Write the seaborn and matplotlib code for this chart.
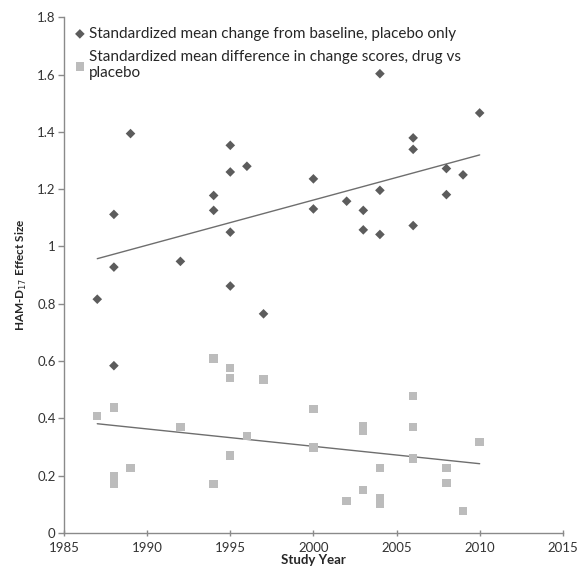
import numpy as np
import pandas as pd
import matplotlib
matplotlib.use('Agg')
import matplotlib.pyplot as plt
import seaborn as sns
from matplotlib.ticker import FuncFormatter

# Placebo-only standardized mean change (diamonds)
placebo_year = [1987, 1988, 1988, 1988, 1989, 1992, 1994, 1994, 1995, 1995, 1995, 1995,
                1996, 1997, 2000, 2000, 2002, 2003, 2003, 2004, 2004, 2004,
                2006, 2006, 2006, 2008, 2008, 2009, 2010]
placebo_es = [0.816, 1.112, 0.928, 0.584, 1.394, 0.948, 1.178, 1.126, 1.353, 1.260, 1.050, 0.862,
              1.280, 0.765, 1.236, 1.131, 1.158, 1.126, 1.058, 1.603, 1.196, 1.042,
              1.379, 1.339, 1.073, 1.272, 1.181, 1.250, 1.466]

# Drug vs placebo standardized mean difference (squares)
drug_year = [1987, 1988, 1988, 1988, 1989, 1992, 1994, 1994, 1995, 1995, 1995, 1996, 1997,
             2000, 2000, 2002, 2003, 2003, 2003, 2004, 2004, 2004,
             2006, 2006, 2006, 2008, 2008, 2009, 2010]
drug_es = [0.409, 0.438, 0.199, 0.171, 0.228, 0.371, 0.609, 0.171, 0.575, 0.542, 0.270, 0.339, 0.536,
           0.432, 0.298, 0.112, 0.373, 0.356, 0.150, 0.228, 0.120, 0.101,
           0.479, 0.370, 0.260, 0.226, 0.174, 0.077, 0.318]

placebo_label = 'Standardized mean change from baseline, placebo only'
drug_label = 'Standardized mean difference in change scores, drug vs\nplacebo'

placebo = pd.DataFrame({'year': placebo_year, 'es': placebo_es})
drug = pd.DataFrame({'year': drug_year, 'es': drug_es})

sns.set_style('white')
plt.rcParams['font.family'] = ['Lato', 'DejaVu Sans']

fig = plt.figure(figsize=(5.82, 5.75), dpi=100)
ax = fig.add_axes([0.110, 0.073, 0.857, 0.897])

sns.scatterplot(data=placebo, x='year', y='es', marker='D', s=24, color='#5c5c5c',
                edgecolor='none', label=placebo_label, ax=ax, zorder=3)
sns.scatterplot(data=drug, x='year', y='es', marker='s', s=36, color='#bcbcbc',
                edgecolor='none', label=drug_label, ax=ax, zorder=3)

# linear trend lines
sns.regplot(data=placebo, x='year', y='es', scatter=False, ci=None, truncate=True,
            line_kws={'color': '#6e6e6e', 'lw': 1.0}, ax=ax)
sns.regplot(data=drug, x='year', y='es', scatter=False, ci=None, truncate=True,
            line_kws={'color': '#6e6e6e', 'lw': 1.0}, ax=ax)

ax.set_xlim(1985, 2015)
ax.set_ylim(0, 1.8)
ax.set_xticks(np.arange(1985, 2016, 5))
ax.set_yticks(np.arange(0, 1.81, 0.2))
ax.yaxis.set_major_formatter(FuncFormatter(lambda v, p: f'{v:.1f}'.rstrip('0').rstrip('.') if v else '0'))

for side in ['top', 'right']:
    ax.spines[side].set_visible(False)
for side in ['left', 'bottom']:
    ax.spines[side].set_color('#8a8a8a')
    ax.spines[side].set_linewidth(1.0)
ax.tick_params(axis='y', direction='out', length=4, width=1, color='#8a8a8a',
               labelsize=9.5, labelcolor='#333333', pad=2, left=True)
ax.tick_params(axis='x', direction='inout', length=5, width=1, color='#8a8a8a',
               labelsize=9.5, labelcolor='#333333', pad=4, bottom=True)

ax.set_xlabel('Study Year', fontsize=9.5, fontweight='bold', labelpad=0)
ax.set_ylabel('HAM-D$_{17}$ Effect Size', fontsize=8.5, fontweight='bold', labelpad=6)

ax.legend(loc='upper left', bbox_to_anchor=(-0.005, 1.002), frameon=False, fontsize=11,
          handletextpad=0.1, labelspacing=0.58, borderaxespad=0.3, handlelength=1.0)

fig.savefig('out.png', dpi=100)
